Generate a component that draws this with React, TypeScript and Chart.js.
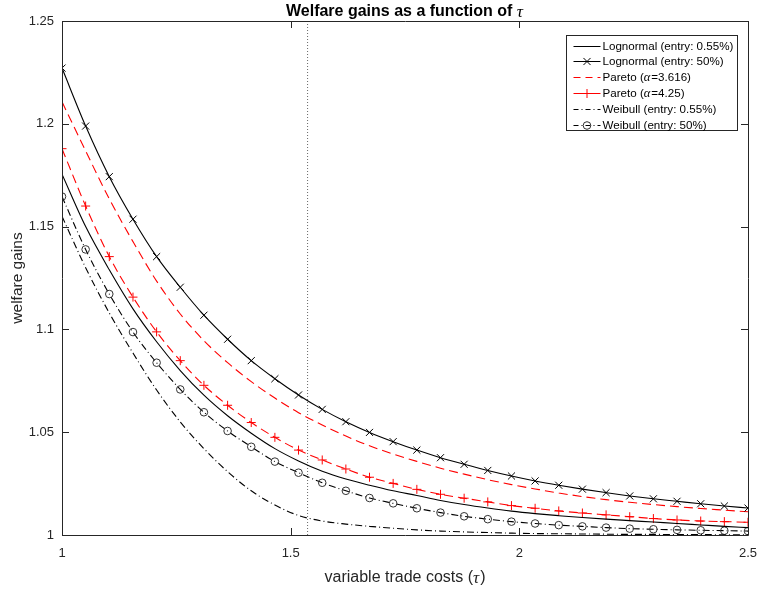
import React, { useEffect, useRef } from "react";
import { Chart, registerables } from "chart.js";

Chart.register(...registerables);

// ---------------- data ----------------
const tauGrid = [
  1.0, 1.0517, 1.1034, 1.1552, 1.2069, 1.2586, 1.3103, 1.3621, 1.4138, 1.4655,
  1.5172, 1.569, 1.6207, 1.6724, 1.7241, 1.7759, 1.8276, 1.8793, 1.931, 1.9828,
  2.0345, 2.0862, 2.1379, 2.1897, 2.2414, 2.2931, 2.3448, 2.3966, 2.4483, 2.5,
];

const lognormal055 = [
  1.1755, 1.15, 1.129, 1.11, 1.094, 1.08, 1.068, 1.058, 1.0495, 1.042,
  1.036, 1.031, 1.0272, 1.0242, 1.0215, 1.0192, 1.0168, 1.0148, 1.0131, 1.0116,
  1.0104, 1.0094, 1.0085, 1.0077, 1.007, 1.0063, 1.0056, 1.0049, 1.0042, 1.0036,
];

const lognormal50 = [
  1.2271, 1.1989, 1.1743, 1.1536, 1.1354, 1.1205, 1.1069, 1.0952, 1.0848, 1.076,
  1.0681, 1.0611, 1.0551, 1.0499, 1.0454, 1.0413, 1.0376, 1.0344, 1.0314, 1.0287,
  1.0263, 1.0242, 1.0223, 1.0206, 1.019, 1.0176, 1.0164, 1.0152, 1.0141, 1.0131,
];

const pareto3616 = [
  1.2107, 1.1868, 1.1635, 1.1427, 1.1235, 1.1075, 1.0945, 1.0838, 1.0746, 1.0666,
  1.0595, 1.0535, 1.0481, 1.0434, 1.0394, 1.0358, 1.0325, 1.0296, 1.0269, 1.0245,
  1.0224, 1.0204, 1.0187, 1.0172, 1.0159, 1.0148, 1.0138, 1.0129, 1.0121, 1.0113,
];

const pareto425 = [
  1.1879, 1.16, 1.1354, 1.1157, 1.0988, 1.0848, 1.0728, 1.0631, 1.0547, 1.0475,
  1.0413, 1.0365, 1.0321, 1.0281, 1.0251, 1.0222, 1.0198, 1.0179, 1.0161, 1.0143,
  1.013, 1.0117, 1.0107, 1.0098, 1.0089, 1.008, 1.0073, 1.0068, 1.0065, 1.0062,
];

const weibull055 = [
  1.155, 1.13, 1.108, 1.0885, 1.0705, 1.055, 1.042, 1.0308, 1.0215, 1.0146,
  1.0095, 1.0068, 1.0053, 1.0042, 1.0033, 1.0025, 1.0019, 1.0015, 1.0012, 1.0009,
  1.0007, 1.0006, 1.0005, 1.0004, 1.0003, 1.0003, 1.0002, 1.0002, 1.0001, 1.0001,
];

const weibull50 = [
  1.1646, 1.1389, 1.1172, 1.0987, 1.0838, 1.0708, 1.0597, 1.0506, 1.0429, 1.0357,
  1.0303, 1.0254, 1.0215, 1.018, 1.0154, 1.013, 1.0109, 1.0091, 1.0077, 1.0065,
  1.0056, 1.0048, 1.0042, 1.0036, 1.0031, 1.0028, 1.0025, 1.0023, 1.0021, 1.0019,
];

const seriesLabels = [
  "Lognormal (entry: 0.55%)",
  "Lognormal (entry: 50%)",
  "Pareto (α=3.616)",
  "Pareto (α=4.25)",
  "Weibull (entry: 0.55%)",
  "Weibull (entry: 50%)",
];

const cutoffTau = 1.537;

const xTickValues = [1, 1.5, 2, 2.5];
const xTickLabels = ["1", "1.5", "2", "2.5"];
const yTickValues = [1, 1.05, 1.1, 1.15, 1.2, 1.25];
const yTickLabels = ["1", "1.05", "1.1", "1.15", "1.2", "1.25"];

const chartTitle = "Welfare gains as a function of τ";
const xAxisTitle = "variable trade costs (τ)";
const yAxisTitle = "welfare gains";

// ---------------- helpers ----------------
const SANS = '"Liberation Sans", Arial, Helvetica, sans-serif';
const SERIF = '"Liberation Serif", "DejaVu Serif", serif';
const AXIS_COLOR = "#262626";

function drawRich(
  ctx: CanvasRenderingContext2D,
  text: string,
  x: number,
  y: number,
  size: number,
  weight: string,
  align: "left" | "center",
  color: string
) {
  const runs: { t: string; greek: boolean }[] = [];
  for (const ch of text) {
    const g = /[\u0370-\u03ff]/.test(ch);
    const last = runs[runs.length - 1];
    if (last && last.greek === g) last.t += ch;
    else runs.push({ t: ch, greek: g });
  }
  const fontFor = (g: boolean) =>
    g ? `italic ${size * 1.08}px ${SERIF}` : `${weight} ${size}px ${SANS}`;
  let total = 0;
  const widths = runs.map((r) => {
    ctx.font = fontFor(r.greek);
    const w = ctx.measureText(r.t).width + (r.greek ? 1 : 0);
    total += w;
    return w;
  });
  let cx = align === "center" ? x - total / 2 : x;
  ctx.fillStyle = color;
  ctx.textBaseline = "middle";
  ctx.textAlign = "left";
  runs.forEach((r, i) => {
    ctx.font = fontFor(r.greek);
    ctx.fillText(r.t, cx, y);
    cx += widths[i];
  });
}

function drawMarker(ctx: CanvasRenderingContext2D, style: string, x: number, y: number, r: number, color: string) {
  ctx.save();
  ctx.strokeStyle = color;
  ctx.lineWidth = 1;
  ctx.setLineDash([]);
  ctx.beginPath();
  if (style === "crossRot") {
    const d = r * Math.SQRT1_2;
    ctx.moveTo(x - d, y - d);
    ctx.lineTo(x + d, y + d);
    ctx.moveTo(x - d, y + d);
    ctx.lineTo(x + d, y - d);
  } else if (style === "cross") {
    ctx.moveTo(x - r, y);
    ctx.lineTo(x + r, y);
    ctx.moveTo(x, y - r);
    ctx.lineTo(x, y + r);
  } else if (style === "circle") {
    ctx.arc(x, y, r, 0, Math.PI * 2);
  }
  ctx.stroke();
  ctx.restore();
}

const framePlugin = {
  id: "matlabFrame",
  afterDatasetsDraw(chart: any) {
    const ctx: CanvasRenderingContext2D = chart.ctx;
    const { left, right, top, bottom } = chart.chartArea;
    const xs = chart.scales.x;
    const ys = chart.scales.y;
    ctx.save();
    ctx.strokeStyle = AXIS_COLOR;
    ctx.lineWidth = 1;
    ctx.setLineDash([]);
    ctx.beginPath();
    ctx.rect(Math.round(left) + 0.5, Math.round(top) + 0.5, Math.round(right - left), Math.round(bottom - top));
    const tl = 7;
    xTickValues.forEach((v) => {
      const px = Math.round(xs.getPixelForValue(v)) + 0.5;
      ctx.moveTo(px, bottom);
      ctx.lineTo(px, bottom - tl);
      ctx.moveTo(px, top);
      ctx.lineTo(px, top + tl);
    });
    yTickValues.forEach((v) => {
      const py = Math.round(ys.getPixelForValue(v)) + 0.5;
      ctx.moveTo(left, py);
      ctx.lineTo(left + tl, py);
      ctx.moveTo(right, py);
      ctx.lineTo(right - tl, py);
    });
    ctx.stroke();
    ctx.restore();
  },
  afterDraw(chart: any) {
    const ctx: CanvasRenderingContext2D = chart.ctx;
    const { left, right, top, bottom } = chart.chartArea;
    const cx = (left + right) / 2;
    ctx.save();
    // title
    drawRich(ctx, chartTitle, cx, 12, 16, "bold", "center", "#000");
    // x-axis title
    drawRich(ctx, xAxisTitle, cx, 578, 16, "normal", "center", AXIS_COLOR);
    // y-axis title
    ctx.save();
    ctx.translate(18, (top + bottom) / 2);
    ctx.rotate(-Math.PI / 2);
    drawRich(ctx, yAxisTitle, 0, 0, 15.5, "normal", "center", AXIS_COLOR);
    ctx.restore();

    // legend
    const lw = 171;
    const lh = 95;
    const lx = Math.round(right - 11 - lw) + 0.5;
    const ly = Math.round(top + 14) + 0.5;
    ctx.fillStyle = "#fff";
    ctx.fillRect(lx, ly, lw, lh);
    ctx.strokeStyle = AXIS_COLOR;
    ctx.lineWidth = 1;
    ctx.setLineDash([]);
    ctx.strokeRect(lx, ly, lw, lh);
    const datasets = chart.data.datasets.slice(0, seriesLabels.length);
    datasets.forEach((ds: any, i: number) => {
      const ry = Math.round(ly + 10 + i * 15.8) + 0.5;
      const x0 = lx + 7;
      const x1 = lx + 34;
      ctx.save();
      ctx.strokeStyle = ds.borderColor;
      ctx.lineWidth = 1;
      ctx.setLineDash(ds.legendDash || []);
      ctx.beginPath();
      ctx.moveTo(x0, ry);
      ctx.lineTo(x1, ry);
      ctx.stroke();
      ctx.restore();
      if (ds.pointRadius > 0) {
        drawMarker(ctx, ds.pointStyle, (x0 + x1) / 2, ry, ds.pointRadius, ds.pointBorderColor);
      }
      drawRich(ctx, ds.label, lx + 36, ry, 11.6, "normal", "left", "#000");
    });
    ctx.restore();
  },
};

export default function App() {
  const canvasRef = useRef<HTMLCanvasElement | null>(null);

  useEffect(() => {
    if (!canvasRef.current) return;
    const pts = (vals: number[]) => tauGrid.map((t, i) => ({ x: t, y: vals[i] }));
    const dashDot = [7, 3, 1, 3];
    const dashed = [9, 5];
    const common = {
      fill: false,
      borderWidth: 1.1,
      cubicInterpolationMode: "monotone",
      pointBorderWidth: 1,
      pointBackgroundColor: "rgba(0,0,0,0)",
    };
    const chart = new Chart(canvasRef.current, {
      type: "line",
      data: {
        datasets: [
          { ...common, label: seriesLabels[0], data: pts(lognormal055), borderColor: "#000", pointRadius: 0 },
          {
            ...common,
            label: seriesLabels[1],
            data: pts(lognormal50),
            borderColor: "#000",
            pointStyle: "crossRot",
            pointRadius: 5,
            pointBorderColor: "#000",
          },
          {
            ...common,
            label: seriesLabels[2],
            data: pts(pareto3616),
            borderColor: "#ff0000",
            borderDash: dashed,
            legendDash: [7, 5],
            pointRadius: 0,
          },
          {
            ...common,
            label: seriesLabels[3],
            data: pts(pareto425),
            borderColor: "#ff0000",
            borderDash: dashed,
            legendDash: [],
            pointStyle: "cross",
            pointRadius: 4.5,
            pointBorderColor: "#ff0000",
          },
          {
            ...common,
            label: seriesLabels[4],
            data: pts(weibull055),
            borderColor: "#000",
            borderDash: dashDot,
            legendDash: [5, 3, 1, 3],
            pointRadius: 0,
          },
          {
            ...common,
            label: seriesLabels[5],
            data: pts(weibull50),
            borderColor: "#000",
            borderDash: dashDot,
            legendDash: [5, 3, 1, 3],
            pointStyle: "circle",
            pointRadius: 3.8,
            pointBorderColor: "#333",
          },
          {
            label: "cutoff",
            data: [
              { x: cutoffTau, y: yTickValues[0] },
              { x: cutoffTau, y: yTickValues[yTickValues.length - 1] },
            ],
            borderColor: "#666",
            borderWidth: 1,
            borderDash: [1, 2],
            pointRadius: 0,
            fill: false,
          },
        ] as any,
      },
      options: {
        animation: false,
        responsive: false,
        devicePixelRatio: 1,
        events: [],
        layout: { padding: { top: 21, right: 0, left: 0, bottom: 0 } },
        plugins: { legend: { display: false }, title: { display: false }, tooltip: { enabled: false } },
        scales: {
          x: {
            type: "linear",
            min: 1,
            max: 2.5,
            grid: { display: false, drawTicks: false },
            border: { display: false },
            afterBuildTicks: (s: any) => {
              s.ticks = xTickValues.map((v) => ({ value: v }));
            },
            afterFit: (s: any) => {
              s.height = 57;
              s.paddingRight = 10;
            },
            ticks: {
              autoSkip: false,
              maxRotation: 0,
              padding: 11,
              color: AXIS_COLOR,
              font: { family: SANS, size: 13 },
              callback: (v: any) => xTickLabels[xTickValues.indexOf(Number(v))] ?? "",
            },
          },
          y: {
            type: "linear",
            min: 1,
            max: 1.25,
            grid: { display: false, drawTicks: false },
            border: { display: false },
            afterBuildTicks: (s: any) => {
              s.ticks = yTickValues.map((v) => ({ value: v }));
            },
            afterFit: (s: any) => {
              s.width = 62;
            },
            ticks: {
              autoSkip: false,
              padding: 8,
              color: AXIS_COLOR,
              font: { family: SANS, size: 13 },
              callback: (v: any) => {
                const i = yTickValues.findIndex((t) => Math.abs(t - Number(v)) < 1e-9);
                return i >= 0 ? yTickLabels[i] : "";
              },
            },
          },
        },
      } as any,
      plugins: [framePlugin],
    });
    return () => chart.destroy();
  }, []);

  return (
    <div style={{ position: "fixed", left: 0, top: 0, width: 758, height: 592, background: "#fff" }}>
      <canvas ref={canvasRef} width={758} height={592} style={{ display: "block" }} />
    </div>
  );
}
